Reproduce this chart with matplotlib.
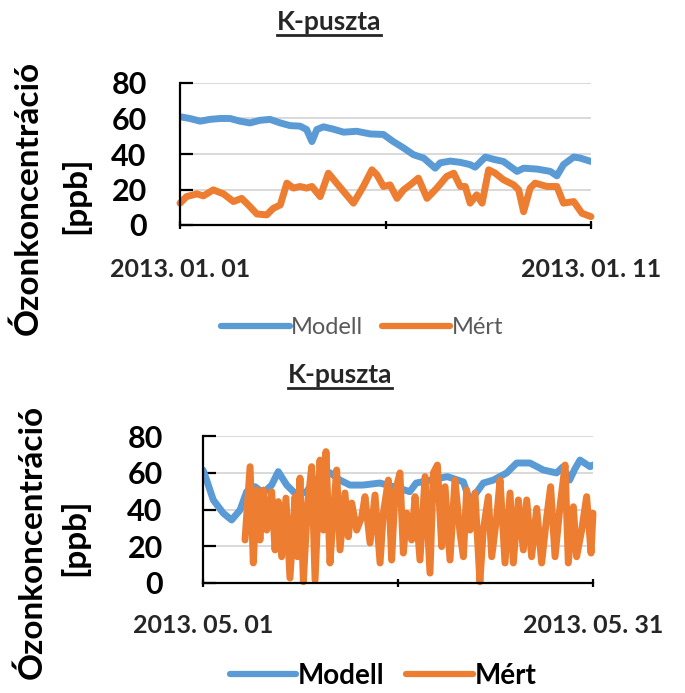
import matplotlib
matplotlib.use("Agg")
import matplotlib.pyplot as plt
from matplotlib.lines import Line2D

plt.rcParams['font.family'] = ['Lato', 'DejaVu Sans']

# ---------------- data ----------------
title_text = "K-puszta"
ylabel_main = "Ózonkoncentráció"
ylabel_unit = "[ppb]"
series_names = ["Modell", "Mért"]

# January panel (days since 2013-01-01)
jan_ticklabels = ["2013. 01. 01", "", "2013. 01. 11"]
jan_span_days = 10
jan_model_t = [0, 0.24, 0.49, 0.73, 0.97, 1.22, 1.46, 1.70, 1.95, 2.19, 2.44, 2.68, 2.92,
               3.08, 3.21, 3.33, 3.49, 3.73, 3.98, 4.30, 4.63, 4.95, 5.19, 5.44, 5.68,
               5.93, 6.21, 6.33, 6.57, 6.82, 7.06, 7.18, 7.43, 7.63, 7.87, 8.20, 8.36,
               8.69, 9.01, 9.17, 9.33, 9.58, 9.74, 10.0]
jan_model_v = [61, 60, 58.5, 59.5, 60, 60, 58.5, 57.5, 59, 59.5, 57.5, 56, 55.7,
               53.8, 47, 53.8, 55.3, 54, 52.3, 52.8, 51.3, 51, 47, 43.4, 39.6,
               37.7, 32, 35, 36, 35.3, 34, 32.6, 38.3, 37, 35.8, 30.2, 32,
               31.5, 30.2, 27.7, 34, 38.3, 37.7, 35.8]
jan_meas_t = [0, 0.16, 0.41, 0.57, 0.81, 1.06, 1.30, 1.50, 1.70, 1.87, 2.11, 2.27, 2.44,
              2.60, 2.76, 2.92, 3.08, 3.21, 3.41, 3.61, 3.81, 3.98, 4.22, 4.46, 4.67,
              4.79, 4.95, 5.11, 5.28, 5.44, 5.60, 5.80, 6.01, 6.25, 6.49, 6.66, 6.82,
              6.94, 7.06, 7.22, 7.35, 7.51, 7.67, 7.87, 8.12, 8.24, 8.36, 8.52, 8.64,
              8.93, 9.17, 9.33, 9.58, 9.78, 10.0]
jan_meas_v = [12.3, 16, 17.5, 16.4, 19.8, 17.5, 13.2, 15, 10.4, 6.2, 5.7, 9.4, 11.3,
              23.6, 20.8, 21.7, 20.8, 21.7, 16, 29.2, 23.6, 18.9, 12.3, 21.7, 31.1,
              28.3, 21.7, 22.6, 15, 19.8, 22.6, 26.4, 15, 20.8, 27.4, 29.2, 21.7,
              21.7, 12.3, 17, 12.3, 31.1, 29.2, 25.5, 22.6, 19.8, 7.5, 20.8, 23.6,
              21.7, 21.7, 12.3, 13.2, 6.6, 4.7]

# May panel (days since 2013-05-01)
may_ticklabels = ["2013. 05. 01", "", "2013. 05. 31"]
may_span_days = 30
may_model_t = [0, 0.28, 0.79, 1.56, 2.2, 2.85, 3.36, 4.0, 4.64, 5.28, 5.79, 6.44, 7.21,
               7.97, 8.5, 9.27, 9.77, 10.54, 11.3, 12.3, 13.6, 14.9, 15.9, 16.4, 17.5,
               18.8, 20.03, 20.54, 21.56, 22.33, 23.36, 24.13, 25.15, 26.18, 27.2,
               27.7, 28.2, 28.6, 29.0, 29.77, 30.0]
may_model_v = [61.5, 56, 45.2, 38, 34.3, 39.7, 49.7, 52.4, 49, 53.3, 60.6, 53.3, 47.9,
               49.7, 55, 60, 60, 56, 53.3, 53.3, 54.4, 52, 49.7, 54.4, 56,
               57.9, 55, 44.3, 54.4, 56, 59.9, 65.3, 65.3, 61.5, 59.9,
               63.3, 56, 62, 66.9, 63.3, 64.2]
may_meas_t = [3.23, 3.62, 3.87, 4.13, 4.38, 4.64, 4.90, 5.28, 5.54, 5.79, 6.05, 6.38,
              6.69, 7.08, 7.26, 7.46, 7.72, 8.03, 8.36, 8.62, 9.0, 9.26, 9.46, 9.77,
              10.03, 10.28, 10.54, 10.92, 11.18, 11.44, 11.82, 12.21, 12.46, 12.85,
              13.23, 13.62, 13.87, 14.26, 14.51, 14.77, 15.15, 15.41, 15.67, 16.05,
              16.31, 16.69, 17.08, 17.46, 17.72, 18.03, 18.36, 18.62, 19.0, 19.38,
              19.77, 20.03, 20.28, 20.54, 20.92, 21.3, 21.56, 21.95, 22.21, 22.59,
              22.85, 23.23, 23.62, 23.87, 24.26, 24.64, 24.9, 25.28, 25.67, 26.05,
              26.44, 26.74, 27.08, 27.46, 27.85, 28.1, 28.49, 28.74, 29.13, 29.51,
              29.85, 30.0]
may_meas_v = [23.4, 63.3, 10.9, 50.6, 23.4, 50.6, 28.8, 49.7, 18.0, 44.3, 14.3, 46.2,
              2.7, 47, 14.3, 57.1, 0.7, 41.5, 63.3, 1.6, 66.9, 28.8, 71.5, 10.9,
              38, 61.5, 18, 49, 25.2, 43.5, 28.8, 36, 47, 21.8,
              47.9, 10.9, 38, 56, 12.5, 49, 59.9, 16.3, 38, 23.4,
              47, 12.5, 57.9, 5.4, 59.9, 64.2, 19.8, 52.4, 12.5, 56,
              27.2, 14.3, 50.6, 28.8, 49, 0.7, 28.8, 47, 14.3, 36,
              56, 10.9, 49, 10.9, 45.2, 18, 45.2, 14.3, 40.6, 10.9,
              36, 52.4, 14.3, 41.5, 64.2, 10.9, 41.5, 14.3, 28.8, 47,
              16.3, 38]

yticks = [0, 20, 40, 60, 80]

# ---------------- style ----------------
BLUE = "#5B9BD5"
ORANGE = "#ED7D31"
GRID = "#D9D9D9"
TXT = "#262626"

W, H = 685, 693
fig = plt.figure(figsize=(W / 100, H / 100), dpi=100)


def fx(px):
    return px / W


def fy(py):
    return 1 - py / H


def make_panel(rect, span, ticklabels, mt, mv, st, sv, ypad, xpad,
               legend_center, leg_bold, leg_fs, leg_color, handlelen):
    ax = fig.add_axes(rect)
    ax.plot(mt, mv, color=BLUE, lw=5, solid_capstyle='round', solid_joinstyle='round',
            label=series_names[0], zorder=3)
    ax.plot(st, sv, color=ORANGE, lw=5, solid_capstyle='round', solid_joinstyle='round',
            label=series_names[1], zorder=4, clip_on=False)
    ax.set_xlim(0, span)
    ax.set_ylim(0, 80)
    ax.set_yticks(yticks)
    ax.set_yticklabels([str(v) for v in yticks])
    ax.set_xticks([0, span / 2, span])
    ax.set_xticklabels(ticklabels)
    ax.yaxis.grid(True, color=GRID, lw=1.4, zorder=0)
    ax.set_axisbelow(True)
    for s in ['top', 'right']:
        ax.spines[s].set_visible(False)
    for s in ['left', 'bottom']:
        ax.spines[s].set_linewidth(1.6)
        ax.spines[s].set_color('black')
        ax.spines[s].set_zorder(5)
    ax.tick_params(axis='y', direction='in', length=9, width=1.6, pad=ypad,
                   labelsize=22, labelcolor='black')
    ax.tick_params(axis='x', direction='inout', length=6, width=1.6, pad=xpad,
                   labelsize=18, labelcolor=TXT)
    for lab in ax.get_yticklabels() + ax.get_xticklabels():
        lab.set_fontweight('bold')
    leg = ax.legend(loc='center', bbox_to_anchor=legend_center,
                    bbox_transform=fig.transFigure, ncol=2, frameon=False,
                    handlelength=handlelen, handletextpad=0.05, columnspacing=0.8,
                    prop={'size': leg_fs, 'weight': 'bold' if leg_bold else 'normal'})
    for t in leg.get_texts():
        t.set_color(leg_color)
    for l in leg.get_lines():
        l.set_linewidth(4.5)
        l.set_solid_capstyle('round')
    return ax


ax1 = make_panel([fx(180), fy(225), fx(591 - 180), (225 - 83) / H], jan_span_days,
                 jan_ticklabels, jan_model_t, jan_model_v, jan_meas_t, jan_meas_v,
                 ypad=24, xpad=21, legend_center=(fx(362), fy(328)),
                 leg_bold=False, leg_fs=17, leg_color="#595959", handlelen=2.9)
ax2 = make_panel([fx(203), fy(583), fx(593 - 203), (583 - 436) / H], may_span_days,
                 may_ticklabels, may_model_t, may_model_v, may_meas_t, may_meas_v,
                 ypad=29, xpad=19, legend_center=(fx(383), fy(676)),
                 leg_bold=True, leg_fs=20, leg_color="black", handlelen=2.4)

# titles (underlined)
titles = []
for (cx, cy) in [(329, 22), (340, 375)]:
    t = fig.text(fx(cx), fy(cy), title_text, ha='center', va='center',
                 fontsize=19, fontweight='bold', color=TXT)
    titles.append(t)

# y labels
for (x1, y1, x2, y2) in [(28, 198, 75, 195), (32, 542, 74, 537)]:
    fig.text(fx(x1), fy(y1), ylabel_main, rotation=90, ha='center', va='center',
             fontsize=24, fontweight='bold', color='black')
    fig.text(fx(x2), fy(y2), ylabel_unit, rotation=90, ha='center', va='center',
             fontsize=24, fontweight='bold', color='black')

fig.canvas.draw()
r = fig.canvas.get_renderer()
for t in titles:
    bb = t.get_window_extent(renderer=r)
    yline = bb.y0 - 1
    fig.add_artist(Line2D([bb.x0 / W, bb.x1 / W], [yline / H, yline / H],
                          transform=fig.transFigure, color=TXT, lw=2))

fig.savefig("out.png", dpi=100)
